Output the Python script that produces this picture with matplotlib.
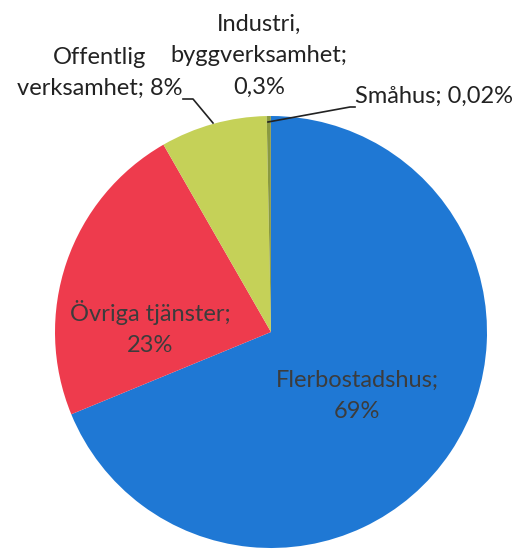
import matplotlib.pyplot as plt

# Data
kategorier = ['Flerbostadshus', 'Övriga tjänster', 'Offentlig verksamhet',
              'Industri, byggverksamhet', 'Småhus']
andelar = [69, 23, 8, 0.3, 0.02]
etiketter = ['Flerbostadshus;\n69%', 'Övriga tjänster;\n23%',
             'Offentlig\nverksamhet; 8%', 'Industri,\nbyggverksamhet;\n0,3%',
             'Småhus; 0,02%']
farger = ['#1f78d4', '#ee3b4d', '#c5d158', '#8a9a40', '#6a7a30']

plt.rcParams['font.family'] = ['Lato', 'DejaVu Sans']

fig = plt.figure(figsize=(5.26, 5.5), dpi=100)
W, H = 526, 550
cx, cy, r = 271, 332, 216
ax = fig.add_axes([(cx - r) / W, (H - cy - r) / H, 2 * r / W, 2 * r / H])

ax.pie(andelar, colors=farger, startangle=90, counterclock=False,
       radius=1, wedgeprops={'linewidth': 0})
ax.set_xlim(-1, 1)
ax.set_ylim(-1, 1)
ax.set_aspect('equal')
ax.axis('off')

def px(x, y):
    # pixel -> data coords of pie axes
    return ((x - cx) / r, (cy - y) / r)

fs = 17
ls = 1.6
txt_in = '#3c3c3c'
# labels inside slices
ax.text(*px(150, 328), etiketter[1], ha='center', va='center', fontsize=fs,
        color=txt_in, linespacing=ls)
ax.text(*px(357, 396), etiketter[0], ha='center', va='center', fontsize=fs,
        color=txt_in, linespacing=ls)

# outside labels
ax.text(*px(100, 73), etiketter[2], ha='center', va='center', fontsize=fs,
        color='#222222', linespacing=ls, clip_on=False)
ax.text(*px(259, 56), etiketter[3], ha='center', va='center', fontsize=fs,
        color='#222222', linespacing=ls, clip_on=False)
ax.text(*px(355, 96), etiketter[4], ha='left', va='center', fontsize=fs,
        color='#222222', clip_on=False)

# leader lines
ax.plot(*zip(px(183, 99), px(193, 99), px(213, 123)), color='#222222',
        lw=1.2, clip_on=False)
ax.plot(*zip(px(268, 122), px(350, 107), px(355, 107)), color='#222222',
        lw=1.2, clip_on=False)

plt.savefig('out.png', dpi=100)
